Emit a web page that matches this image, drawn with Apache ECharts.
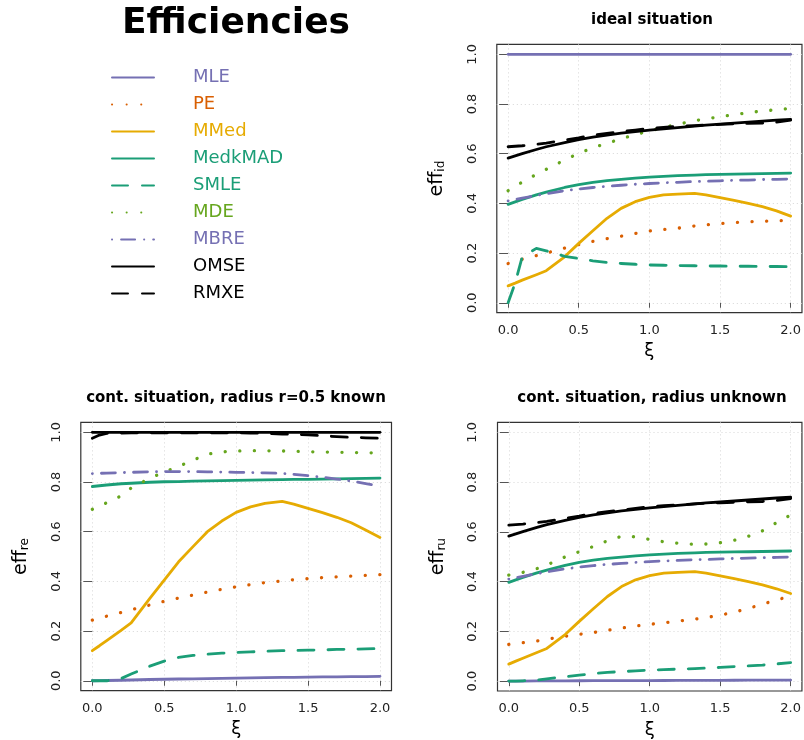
<!DOCTYPE html>
<html><head><meta charset="utf-8">
<script src="https://cdn.jsdelivr.net/npm/echarts@6/dist/echarts.min.js"></script>
<style>html,body{margin:0;padding:0;background:#fff}#c{width:804px;height:740px}</style>
</head><body><div id="c"></div><script>
// shared x grid (xi)
const xs = [0, 0.05, 0.1, 0.2, 0.27, 0.4, 0.5, 0.6, 0.7, 0.8, 0.9, 1.0, 1.1, 1.2, 1.32, 1.4, 1.5, 1.6, 1.7, 1.8, 1.9, 2.0];
const xTicks = [0, 0.5, 1, 1.5, 2];
const yTicks = [0, 0.2, 0.4, 0.6, 0.8, 1.0];
const estimators = ['MLE','PE','MMed','MedkMAD','SMLE','MDE','MBRE','OMSE','RMXE'];

// ideal situation
const MLE_id     = [1,1,1,1,1,1,1,1,1,1,1,1,1,1,1,1,1,1,1,1,1,1];
const PE_id      = [0.158,0.166,0.175,0.190,0.200,0.220,0.234,0.247,0.258,0.268,0.279,0.289,0.295,0.300,0.309,0.314,0.319,0.323,0.326,0.328,0.330,0.332];
const MMed_id    = [0.068,0.079,0.091,0.113,0.129,0.185,0.239,0.290,0.340,0.380,0.407,0.424,0.434,0.437,0.440,0.434,0.423,0.412,0.400,0.387,0.370,0.349];
const MedkMAD_id = [0.396,0.406,0.416,0.434,0.445,0.464,0.476,0.485,0.492,0.497,0.502,0.506,0.509,0.512,0.514,0.516,0.517,0.518,0.519,0.520,0.521,0.522];
const SMLE_id    = [0.000,0.080,0.185,0.219,0.209,0.187,0.178,0.169,0.162,0.158,0.155,0.152,0.151,0.150,0.149,0.148,0.148,0.147,0.147,0.146,0.146,0.145];
const MDE_id     = [0.451,0.468,0.486,0.517,0.537,0.575,0.601,0.624,0.642,0.660,0.677,0.691,0.706,0.718,0.733,0.740,0.749,0.757,0.765,0.772,0.777,0.782];
const MBRE_id    = [0.410,0.416,0.421,0.432,0.439,0.451,0.458,0.464,0.469,0.473,0.477,0.480,0.483,0.485,0.488,0.489,0.491,0.493,0.494,0.496,0.497,0.498];
const OMSE_id    = [0.582,0.591,0.600,0.617,0.628,0.645,0.657,0.667,0.675,0.683,0.689,0.695,0.700,0.705,0.711,0.715,0.719,0.723,0.727,0.731,0.735,0.738];
const RMXE_id    = [0.628,0.630,0.632,0.638,0.643,0.655,0.664,0.675,0.682,0.689,0.695,0.702,0.706,0.710,0.713,0.716,0.718,0.720,0.722,0.723,0.727,0.735];

// contaminated, radius r=0.5 known
const MLE_re     = [0.000,0.0005,0.001,0.002,0.003,0.005,0.006,0.007,0.008,0.009,0.010,0.011,0.012,0.013,0.014,0.014,0.015,0.016,0.016,0.017,0.017,0.018];
const PE_re      = [0.244,0.252,0.260,0.275,0.286,0.305,0.320,0.333,0.345,0.357,0.368,0.378,0.387,0.395,0.402,0.407,0.411,0.415,0.418,0.421,0.424,0.427];
const MMed_re    = [0.121,0.141,0.162,0.203,0.233,0.332,0.405,0.479,0.540,0.600,0.643,0.678,0.700,0.714,0.722,0.711,0.694,0.677,0.658,0.636,0.607,0.577];
const MedkMAD_re = [0.782,0.785,0.788,0.793,0.795,0.799,0.801,0.802,0.804,0.805,0.806,0.807,0.808,0.809,0.810,0.811,0.811,0.812,0.813,0.814,0.815,0.816];
const SMLE_re    = [0.000,0.000,0.000,0.009,0.027,0.059,0.079,0.094,0.102,0.107,0.111,0.114,0.116,0.119,0.121,0.122,0.123,0.124,0.126,0.127,0.128,0.130];
const MDE_re     = [0.690,0.703,0.717,0.744,0.776,0.815,0.840,0.863,0.888,0.912,0.921,0.925,0.926,0.926,0.925,0.924,0.922,0.921,0.920,0.919,0.918,0.917];
const MBRE_re    = [0.834,0.835,0.836,0.838,0.839,0.841,0.842,0.842,0.842,0.841,0.840,0.839,0.838,0.837,0.835,0.831,0.826,0.819,0.812,0.804,0.794,0.784];
const OMSE_re    = [1,1,1,1,1,1,1,1,1,1,1,1,1,1,1,1,1,1,1,1,1,1];
const RMXE_re    = [0.976,0.989,0.996,0.997,0.998,0.998,0.998,0.998,0.998,0.998,0.998,0.998,0.997,0.996,0.993,0.992,0.990,0.986,0.983,0.980,0.978,0.976];

// contaminated, radius unknown
const MLE_ru     = [0.000,0.000,0.000,0.0005,0.0007,0.001,0.0012,0.0014,0.0016,0.0018,0.002,0.002,0.0023,0.0025,0.0027,0.003,0.003,0.0032,0.0034,0.0036,0.0038,0.004];
const PE_ru      = [0.147,0.151,0.154,0.161,0.168,0.180,0.188,0.195,0.204,0.213,0.221,0.228,0.234,0.241,0.249,0.255,0.265,0.277,0.292,0.309,0.326,0.342];
const MMed_ru    = [0.068,0.080,0.092,0.115,0.131,0.187,0.240,0.291,0.340,0.380,0.407,0.424,0.434,0.437,0.440,0.434,0.423,0.412,0.400,0.387,0.371,0.352];
const MedkMAD_ru = [0.397,0.407,0.417,0.435,0.446,0.465,0.477,0.486,0.493,0.498,0.503,0.507,0.510,0.513,0.515,0.517,0.518,0.519,0.520,0.521,0.522,0.523];
const SMLE_ru    = [0.000,0.000,0.001,0.004,0.009,0.017,0.024,0.030,0.035,0.038,0.041,0.044,0.046,0.048,0.050,0.052,0.055,0.058,0.061,0.064,0.069,0.074];
const MDE_ru     = [0.426,0.431,0.437,0.452,0.467,0.499,0.520,0.541,0.564,0.582,0.580,0.569,0.560,0.554,0.550,0.551,0.556,0.566,0.582,0.604,0.637,0.668];
const MBRE_ru    = [0.410,0.416,0.421,0.432,0.439,0.451,0.458,0.464,0.469,0.473,0.477,0.480,0.483,0.485,0.488,0.489,0.491,0.493,0.494,0.496,0.497,0.499];
const OMSE_ru    = [0.583,0.592,0.601,0.618,0.629,0.646,0.658,0.668,0.676,0.684,0.690,0.696,0.701,0.706,0.712,0.716,0.720,0.724,0.728,0.732,0.736,0.739];
const RMXE_ru    = [0.627,0.629,0.631,0.637,0.642,0.654,0.663,0.674,0.681,0.688,0.694,0.701,0.705,0.709,0.712,0.715,0.717,0.719,0.721,0.722,0.726,0.734];

const panels = [
  {title:'ideal situation', sub:'id', vals:[MLE_id,PE_id,MMed_id,MedkMAD_id,SMLE_id,MDE_id,MBRE_id,OMSE_id,RMXE_id]},
  {title:'cont. situation, radius r=0.5 known', sub:'re', vals:[MLE_re,PE_re,MMed_re,MedkMAD_re,SMLE_re,MDE_re,MBRE_re,OMSE_re,RMXE_re]},
  {title:'cont. situation, radius unknown', sub:'ru', vals:[MLE_ru,PE_ru,MMed_ru,MedkMAD_ru,SMLE_ru,MDE_ru,MBRE_ru,OMSE_ru,RMXE_ru]}
];

const FONT = 'DejaVu Sans';
const styles = {
  MLE:     {color:'#7570B3', type:'solid', w:2.8},
  PE:      {color:'#D95F02', type:[0.1,14.5], w:3.3},
  MMed:    {color:'#E6AB02', type:'solid', w:2.8},
  MedkMAD: {color:'#1B9E77', type:'solid', w:2.8},
  SMLE:    {color:'#1B9E77', type:[16,14], w:2.8},
  MDE:     {color:'#66A61E', type:[0.1,14.5], w:3.3},
  MBRE:    {color:'#7570B3', type:[0.1,9,14,9], w:2.8},
  OMSE:    {color:'#000000', type:'solid', w:2.8},
  RMXE:    {color:'#000000', type:[16,14], w:2.8}
};

const gridBoxes = [
  {left:496.8, top:44.4, width:310.4, height:268.3},
  {left:80.8, top:422.4, width:310.7, height:268.3},
  {left:497.5, top:422.4, width:309.7, height:268.6}
];

const fmt = v => Number(v).toFixed(1);
const gridLine = {show:true, lineStyle:{type:[1,3], color:'#d6d6d6', width:1}};
const grids = [], xAxes = [], yAxes = [], series = [];
panels.forEach((p, gi) => {
  grids.push(Object.assign({show:true, borderColor:'#333', borderWidth:1.2, backgroundColor:'transparent', containLabel:false}, gridBoxes[gi]));
  xAxes.push({
    gridIndex:gi, type:'value', min:-0.08, max:2.08,
    axisLine:{show:false},
    axisTick:{show:true, length:5, customValues:xTicks, lineStyle:{color:'#555', width:1}},
    axisLabel:{customValues:xTicks, formatter:fmt, margin:11, fontSize:13, color:'#222', fontFamily:FONT},
    splitLine:gridLine,
    name:'ξ', nameLocation:'middle', nameGap:30,
    nameTextStyle:{fontSize:18, color:'#000', fontFamily:FONT}
  });
  yAxes.push({
    gridIndex:gi, type:'value', min:-0.04, max:1.04,
    axisLine:{show:false},
    axisTick:{show:true, length:9, customValues:yTicks, lineStyle:{color:'#555', width:1}},
    axisLabel:{customValues:yTicks, formatter:fmt, rotate:90, margin:18, fontSize:13, color:'#222', fontFamily:FONT},
    splitLine:gridLine,
    name:'{a|eff}{b|' + p.sub + '}', nameLocation:'middle', nameRotate:90, nameGap:50,
    nameTextStyle:{color:'#000', fontFamily:FONT,
      rich:{a:{fontSize:19, fontFamily:FONT, color:'#000'},
            b:{fontSize:12, fontFamily:FONT, color:'#000', verticalAlign:'bottom', lineHeight:12, padding:[9,0,0,0]}}}
  });
  estimators.forEach((name, si) => {
    const st = styles[name];
    series.push({
      name, type:'line', xAxisIndex:gi, yAxisIndex:gi,
      data: xs.map((x, i) => [x, p.vals[si][i]]),
      symbol:'none', smooth:false, animation:false, silent:true,
      lineStyle:{color:st.color, width:st.w, type:st.type, cap:'round', join:'round'},
      itemStyle:{color:st.color}
    });
  });
});

const titles = [
  {text:'Efficiencies', left:236, top:6, textAlign:'center', padding:0,
   textStyle:{fontSize:36, fontWeight:'bold', fontFamily:FONT, color:'#000'}},
  {text:panels[0].title, left:652, top:13, textAlign:'center', padding:0,
   textStyle:{fontSize:15, fontWeight:'bold', fontFamily:FONT, color:'#000'}},
  {text:panels[1].title, left:236, top:390.5, textAlign:'center', padding:0,
   textStyle:{fontSize:15, fontWeight:'bold', fontFamily:FONT, color:'#000'}},
  {text:panels[2].title, left:652, top:390.5, textAlign:'center', padding:0,
   textStyle:{fontSize:15, fontWeight:'bold', fontFamily:FONT, color:'#000'}}
];

const chart = echarts.init(document.getElementById('c'), null, {renderer:'canvas'});
chart.setOption({
  backgroundColor:'#ffffff',
  animation:false,
  textStyle:{fontFamily:FONT},
  title:titles,
  legend:{
    orient:'vertical', left:106, top:59, padding:5,
    itemWidth:42, itemHeight:14, itemGap:0,
    itemStyle:{opacity:0},
    textStyle:{fontSize:18, lineHeight:27, fontFamily:FONT, padding:[0,0,0,34]},
    selectedMode:false,
    data: estimators.map(n => ({name:n, textStyle:{color:styles[n].color}}))
  },
  grid:grids, xAxis:xAxes, yAxis:yAxes, series
});
</script></body></html>
